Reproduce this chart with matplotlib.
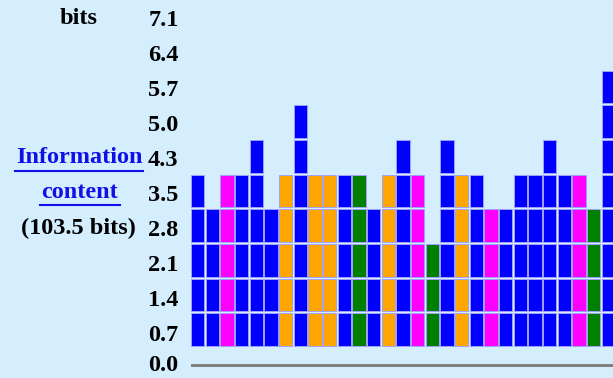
import matplotlib.pyplot as plt
from matplotlib.lines import Line2D

# number of 0.7-bit blocks stacked in each column, and the column colour
blocks = [5, 4, 5, 5, 6, 4, 5, 7, 5, 5, 5, 5, 4, 5, 6, 5, 3, 6, 5, 5, 4, 4, 5, 5, 6, 5, 5, 4, 8]
colors = ['blue', 'blue', 'magenta', 'blue', 'blue', 'blue', 'orange', 'blue', 'orange', 'orange',
          'blue', 'green', 'blue', 'orange', 'blue', 'magenta', 'green', 'blue', 'orange', 'blue',
          'magenta', 'blue', 'blue', 'blue', 'blue', 'blue', 'magenta', 'green', 'blue']
tick_labels = ['0.0', '0.7', '1.4', '2.1', '2.8', '3.5', '4.3', '5.0', '5.7', '6.4', '7.1']
block = 0.7
total_bits = '103.5'

cmap = {'blue': '#0000ff', 'magenta': '#ff00ff', 'orange': '#ffa500', 'green': '#008000'}
bg = '#d4eefe'
W, H = 613, 378
fs = 17.5

plt.rcParams['font.family'] = ['Liberation Serif', 'DejaVu Serif']
plt.rcParams['font.weight'] = 'bold'

fig = plt.figure(figsize=(W / 100, H / 100), dpi=100, facecolor=bg)
# axes from x=191px to right edge, full height
ax = fig.add_axes([191 / W, 0, 1 - 191 / W, 1])
ax.set_facecolor(bg)
pitch = 14.67  # px per column
px_per_bit = 34.67 / block
ax.set_xlim(-0.45, -0.45 + (W - 191) / pitch)
ax.set_ylim(-(H - 347) / px_per_bit, 347 / px_per_bit)

gap = 0.02
for i, (n, c) in enumerate(zip(blocks, colors)):
    for j in range(n):
        ax.bar(i, block - 2 * gap, bottom=j * block + gap, width=0.92,
               color=cmap[c], edgecolor='#a0a0ff', linewidth=0.7)

# baseline
ax.axhline(-18 / px_per_bit, color='#7a7a7a', linewidth=2)

# tick labels sit like an html table, not exactly on block edges
pos = [-16 / px_per_bit] + [(14 + k * 35) / px_per_bit for k in range(len(tick_labels) - 1)]
ax.set_yticks(pos, tick_labels)
ax.tick_params(axis='y', length=0, pad=9, labelsize=fs)
ax.set_xticks([])
for s in ax.spines.values():
    s.set_visible(False)

link = '#1010e8'
fig.text(79 / W, 1 - 18 / H, 'bits', ha='center', va='center', fontsize=fs)
fig.text(79 / W, 1 - 158 / H, 'Information', ha='center', va='center', fontsize=fs, color=link)
fig.text(80 / W, 1 - 193 / H, 'content', ha='center', va='center', fontsize=fs, color=link)
fig.text(78 / W, 1 - 228 / H, '(' + total_bits + ' bits)', ha='center', va='center', fontsize=fs)
fig.add_artist(Line2D([15 / W, 143 / W], [1 - 171 / H] * 2, color=link, linewidth=1.5))
fig.add_artist(Line2D([40 / W, 120 / W], [1 - 205.5 / H] * 2, color=link, linewidth=1.5))

fig.savefig('out.png', dpi=100, facecolor=bg)
